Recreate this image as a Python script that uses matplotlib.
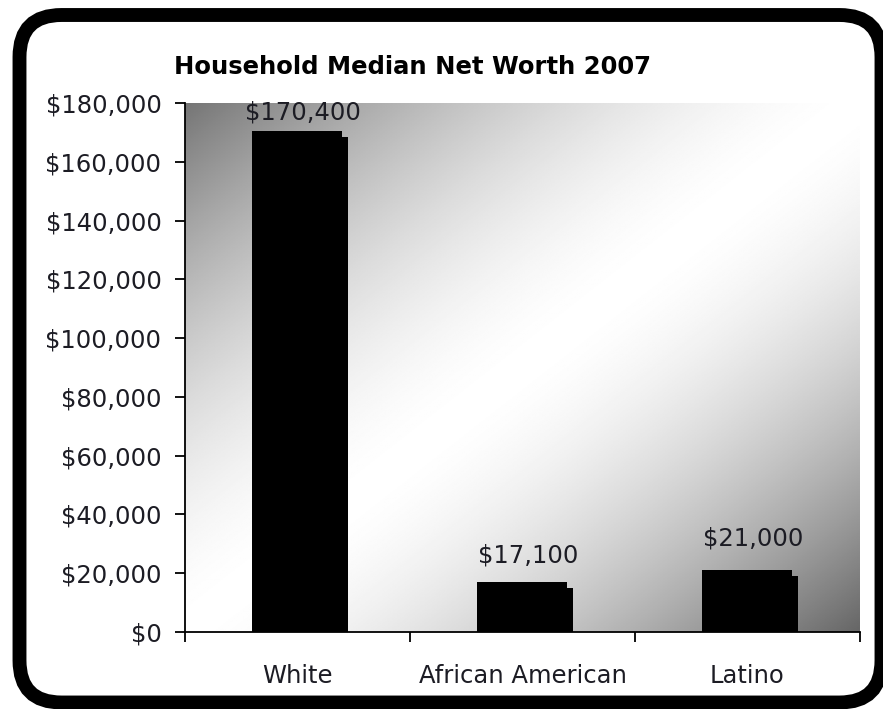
import matplotlib
matplotlib.use("Agg")
import matplotlib.pyplot as plt
import numpy as np
from matplotlib.patches import FancyBboxPatch
from matplotlib.transforms import offset_copy

# data
groups = ["White", "African American", "Latino"]
net_worth = [170400, 17100, 21000]
y_ticks = [0, 20000, 40000, 60000, 80000, 100000, 120000, 140000, 160000, 180000]
label_offsets = [4.5, 10, 14]   # points above each bar (as in the picture)

text_col = "#1c1c24"
plt.rcParams["font.family"] = ["DejaVu Sans"]

fig = plt.figure(figsize=(8.83, 7.09), dpi=100)
fig.patch.set_facecolor("white")

# rounded black frame
frame = FancyBboxPatch((0.195, 0.065), 8.62, 6.875,
                       boxstyle="round,pad=0,rounding_size=0.42",
                       transform=fig.dpi_scale_trans,
                       fc="white", ec="black", lw=10, zorder=-1)
fig.patches.append(frame)

ax = fig.add_axes([0.2095, 0.1086, 0.7644, 0.7461])
ax.patch.set_visible(False)

# diagonal gradient background: dark corners top-left / bottom-right
n = 400
xx, yy = np.meshgrid(np.linspace(0, 1, n), np.linspace(0, 1, n))
s = xx - yy  # -1 top-left, +1 bottom-right
grad = np.where(s < 0, 1 - 0.54 * np.abs(s) ** 1.6, 1 - 0.6 * np.abs(s) ** 1.6)
ax.imshow(grad, extent=[0, 1, 0, 1], transform=ax.transAxes, origin="lower",
          cmap="gray", vmin=0, vmax=1, aspect="auto", zorder=0,
          interpolation="bilinear")

x = np.arange(len(groups))
shadow_tr = offset_copy(ax.transData, fig=fig, x=6, y=-6, units="dots")
ax.bar(x, net_worth, width=0.4, color="black", transform=shadow_tr, zorder=2)
ax.bar(x, net_worth, width=0.4, color="black", zorder=3)

for xi, v, off in zip(x, net_worth, label_offsets):
    ax.annotate(f"${v:,.0f}", xy=(xi, v), xytext=(4, off),
                textcoords="offset points", ha="center", va="bottom",
                fontsize=17.5, color=text_col, zorder=4)

ax.set_xlim(-0.5, 2.5)
ax.set_ylim(0, 180000)
ax.set_yticks(y_ticks)
ax.set_yticklabels([f"${v:,.0f}" for v in y_ticks])
ax.set_xticks(x)
ax.set_xticklabels(groups)
ax.set_xticks([-0.5, 0.5, 1.5, 2.5], minor=True)

ax.tick_params(axis="x", which="major", length=0, pad=23,
               labelsize=17.5, labelcolor=text_col)
ax.tick_params(axis="x", which="minor", length=7, width=1.3, direction="out")
ax.tick_params(axis="y", length=7, width=1.3, pad=10,
               labelsize=17.5, labelcolor=text_col)

for side in ["top", "right"]:
    ax.spines[side].set_visible(False)
for side in ["left", "bottom"]:
    ax.spines[side].set_linewidth(1.3)
    ax.spines[side].set_zorder(5)

fig.text(412 / 883, 1 - 67 / 709, "Household Median Net Worth 2007",
         ha="center", va="center", fontsize=17.5, fontweight="bold",
         color="black")

fig.savefig("out.png", dpi=100)
